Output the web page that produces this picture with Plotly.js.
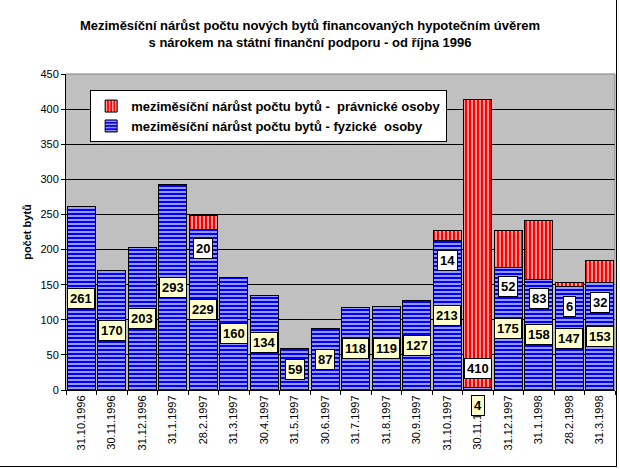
<!DOCTYPE html>
<html><head><meta charset="utf-8">
<script src="https://cdn.plot.ly/plotly-3.0.1.min.js"></script>
<style>
html,body{margin:0;padding:0;background:#fff;}
#chart{position:absolute;left:0;top:0;width:620px;height:469px;}
#frame{position:absolute;left:0;top:0;width:616px;height:466px;border-right:1px solid #000;border-bottom:1px solid #000;pointer-events:none;z-index:10;}
</style></head>
<body>
<div id="chart"></div><div id="frame"></div>
<script>
const dates = ['31.10.1996','30.11.1996','31.12.1996','31.1.1997','28.2.1997','31.3.1997','30.4.1997','31.5.1997','30.6.1997','31.7.1997','31.8.1997','30.9.1997','31.10.1997','30.11.1997','31.12.1997','31.1.1998','28.2.1998','31.3.1998'];
const fyzicke = [261,170,203,293,229,160,134,59,87,118,119,127,213,4,175,158,147,153];
const pravnicke = [null,null,null,null,20,null,null,null,null,null,null,null,14,410,52,83,6,32];
const nameFyz = 'meziměsíční nárůst počtu bytů - fyzické  osoby';
const namePrav = 'meziměsíční nárůst počtu bytů -  právnické osoby';

const FONT = 'Liberation Sans, Arial, sans-serif';

const traces = [
  {type:'bar', x:dates, y:fyzicke, name:nameFyz,
   marker:{color:'#0000FF', line:{color:'#000', width:1},
     pattern:{shape:'-', fgcolor:'#FFFFFF', bgcolor:'#0000FF', size:4, solidity:0.3, fillmode:'replace'}}},
  {type:'bar', x:dates, y:pravnicke, name:namePrav,
   marker:{color:'#FF0000', line:{color:'#000', width:1},
     pattern:{shape:'|', fgcolor:'#FFFFFF', bgcolor:'#FF0000', size:4, solidity:0.3, fillmode:'replace'}}}
];

const annotations = [];
const labFont = {family:FONT, size:13, color:'#000', weight:'bold'};
dates.forEach((d,i)=>{
  const b = fyzicke[i];
  const small = b/2 < 15;
  annotations.push({x:d, y:b/2, yshift: small ? -17 : 0, text:String(b), showarrow:false,
    bgcolor:'#FFFFCC', bordercolor:'#000', borderwidth:1, borderpad:2, font:labFont});
  if (pravnicke[i] !== null) {
    annotations.push({x:d, y:Math.max(b-28, 30), text:String(pravnicke[i]), showarrow:false,
      bgcolor:'#FFFFFF', bordercolor:'#000', borderwidth:1, borderpad:2, font:labFont});
  }
});

const layout = {
  width:620, height:469,
  margin:{l:66, r:5, t:74, b:79},
  paper_bgcolor:'#FFFFFF', plot_bgcolor:'#C0C0C0',
  font:{family:FONT, size:11, color:'#000'},
  title:{text:'Meziměsíční nárůst počtu nových bytů financovaných hypotečním úvěrem<br>s nárokem na státní finanční podporu - od října 1996',
    font:{family:FONT, size:13, color:'#000', weight:'bold'},
    x:0.5, xref:'container', y:1-30/469, yref:'container', yanchor:'top'},
  barmode:'stack', bargap:0.07,
  showlegend:true,
  legend:{x:0.044, y:0.949, xanchor:'left', yanchor:'top', bgcolor:'#FFFFFF', bordercolor:'#000', borderwidth:1,
    traceorder:'reversed', font:{family:FONT, size:13, color:'#000', weight:'bold'}, tracegroupgap:0},
  xaxis:{type:'category', tickangle:-90, ticks:'outside', tickson:'boundaries', ticklen:4, tickcolor:'#000',
    showline:true, linecolor:'#000', linewidth:1, showgrid:false, tickfont:{family:FONT, size:11, color:'#000'}, automargin:false},
  yaxis:{range:[0,450], dtick:50, tick0:0, showgrid:true, gridcolor:'#000', gridwidth:1, zeroline:false,
    showline:true, linecolor:'#000', linewidth:1, ticks:'outside', ticklen:4, tickcolor:'#000',
    tickfont:{family:FONT, size:11, color:'#000'}, automargin:false,
    title:{text:'počet bytů', font:{family:FONT, size:11, color:'#000', weight:'bold'}, standoff:6}},
  shapes:[
    {type:'line', xref:'paper', yref:'paper', x0:0, x1:1, y0:1, y1:1, line:{color:'#808080', width:1}, layer:'above'},
    {type:'line', xref:'paper', yref:'paper', x0:1, x1:1, y0:0, y1:1, line:{color:'#808080', width:1}, layer:'above'}
  ],
  annotations:annotations
};

Plotly.newPlot('chart', traces, layout, {displayModeBar:false, staticPlot:true});
</script>
</body></html>
